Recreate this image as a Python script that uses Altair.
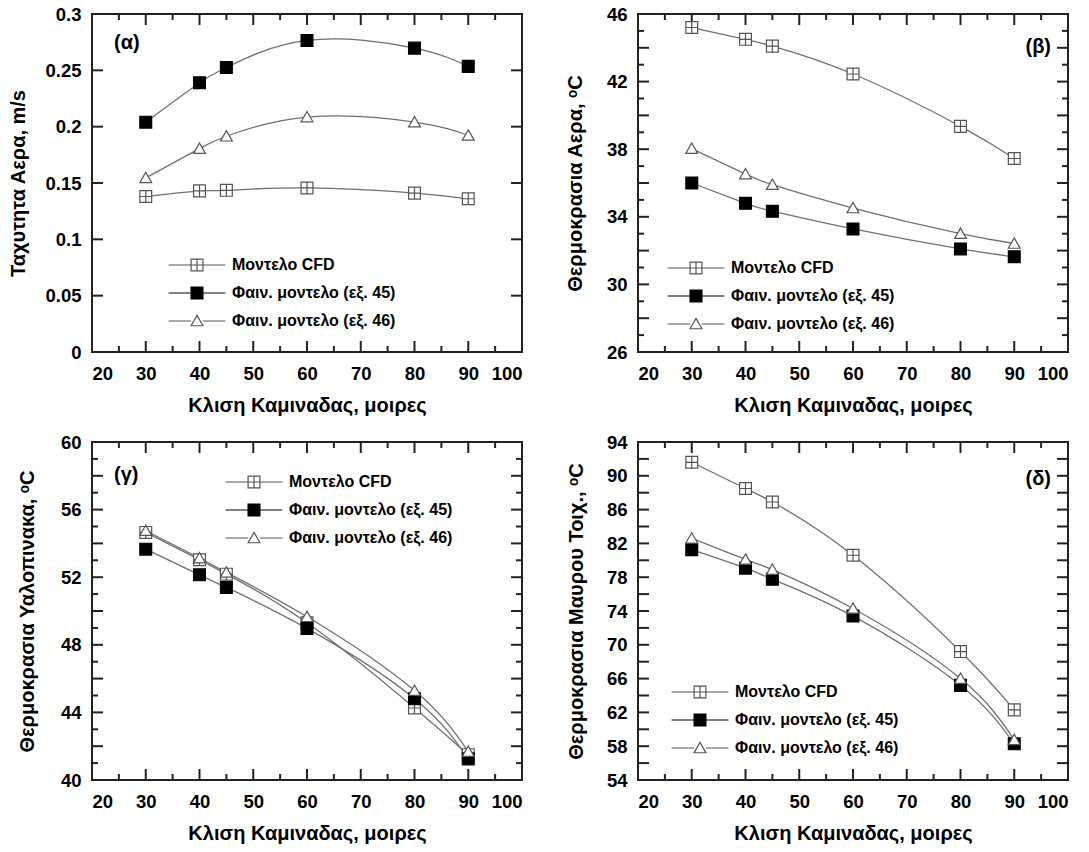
import altair as alt
import pandas as pd

angles = [30, 40, 45, 60, 80, 90]
series_names = ["Μοντελο CFD", "Φαιν. μοντελο (εξ. 45)", "Φαιν. μοντελο (εξ. 46)"]

# (α) air velocity, m/s
a_cfd = [0.138, 0.143, 0.1435, 0.1456, 0.141, 0.136]
a_eq45 = [0.204, 0.239, 0.2525, 0.2765, 0.2697, 0.2535]
a_eq46 = [0.1545, 0.1805, 0.1915, 0.2085, 0.204, 0.1922]
# (β) air temperature, oC
b_cfd = [45.2, 44.5, 44.1, 42.45, 39.35, 37.45]
b_eq45 = [36.0, 34.8, 34.33, 33.28, 32.1, 31.63]
b_eq46 = [38.03, 36.53, 35.9, 34.52, 33.0, 32.42]
# (γ) glass temperature, oC
g_cfd = [54.65, 53.03, 52.18, 49.3, 44.26, 41.5]
g_eq45 = [53.66, 52.14, 51.39, 48.97, 44.81, 41.25]
g_eq46 = [54.75, 53.13, 52.28, 49.66, 45.29, 41.68]
# (δ) black wall temperature, oC
d_cfd = [91.6, 88.5, 86.9, 80.6, 69.2, 62.3]
d_eq45 = [81.25, 79.07, 77.76, 73.4, 65.2, 58.28]
d_eq46 = [82.6, 80.1, 78.9, 74.3, 66.0, 58.75]

x_title = "Κλιση Καμιναδας, μοιρες"
x_labels = [20, 30, 40, 50, 60, 70, 80, 90, 100]
x_ticks = [20, 25, 30, 35, 40, 45, 50, 55, 60, 65, 70, 75, 80, 85, 90, 95, 100]

W, H = 430, 338
FONT = "Liberation Sans"
LINE_GRAY = "#707070"
MARK_GRAY = "#555555"
FRAME = "#222222"
MAJOR_LEN, MINOR_LEN = 11, 6

pt_shapes = ["M-1,-1H1V1H-1Z M0,-1V1 M-1,0H1", "square", "M0,-0.95L1,0.8H-1Z"]
leg_shapes = [
    "M-4.8,0H-1 M1,0H4.8 M-1,-1H1V1H-1Z M0,-1V1 M-1,0H1",
    "M-4.8,0H-1 M1,0H4.8 M-1,-1H1V1H-1Z",
    "M-4.8,0H-1 M1,0H4.8 M0,-0.95L1,0.8H-1Z",
]
fills = ["white", "black", "white"]
strokes = [MARK_GRAY, "black", MARK_GRAY]


def tick_frame(vals, major_step):
    """Inward frame ticks on both sides: one row per tick value and side."""
    rows = []
    for side in ("a", "b"):
        for v in vals:
            q = round(v / major_step, 6)
            major = abs(q - round(q)) < 1e-6
            rows.append({"v": v, "side": side, "len": MAJOR_LEN if major else MINOR_LEN})
    return pd.DataFrame(rows)


def panel(values, ydom, ylabels, yticks, ymajor, yfmt, ytitle, ytpad, letter, right,
          lx, ly, ldy):
    rows = []
    for name, vals in zip(series_names, values):
        for a, v in zip(angles, vals):
            rows.append({"angle": a, "value": v, "series": name})
    df = pd.DataFrame(rows)
    base = alt.Chart(df)
    xs = alt.Scale(domain=[20, 100], nice=False, zero=False)
    ys = alt.Scale(domain=ydom, nice=False, zero=False)

    lines = base.mark_line(interpolate="natural", color=LINE_GRAY, strokeWidth=1.3).encode(
        x=alt.X("angle:Q", scale=xs, axis=alt.Axis(
            values=x_labels, title=x_title, ticks=False, tickSize=0, domain=False,
            labelPadding=12, titlePadding=13, format="d")),
        y=alt.Y("value:Q", scale=ys, axis=alt.Axis(
            values=ylabels, title=ytitle, ticks=False, tickSize=0, domain=False,
            labelPadding=11, titlePadding=ytpad, format=yfmt)),
        detail="series:N",
    )

    # inward ticks along bottom ("a") and top ("b") edges
    xt = alt.Chart(tick_frame(x_ticks, 10)).transform_calculate(
        p0=f"datum.side === 'a' ? {H} : 0",
        p1=f"datum.side === 'a' ? {H} - datum.len : datum.len",
    ).mark_rule(color=FRAME, strokeWidth=2).encode(
        x=alt.X("v:Q", scale=xs, axis=None),
        y=alt.Y("p0:Q", scale=None, axis=None),
        y2="p1:Q",
    )
    # inward ticks along left ("a") and right ("b") edges
    yt = alt.Chart(tick_frame(yticks, ymajor)).transform_calculate(
        p0=f"datum.side === 'a' ? 0 : {W}",
        p1=f"datum.side === 'a' ? datum.len : {W} - datum.len",
    ).mark_rule(color=FRAME, strokeWidth=2).encode(
        y=alt.Y("v:Q", scale=ys, axis=None),
        x=alt.X("p0:Q", scale=None, axis=None),
        x2="p1:Q",
    )

    pts = base.mark_point(filled=True, size=140, strokeWidth=1.2, opacity=1).encode(
        x=alt.X("angle:Q", scale=xs, axis=None),
        y=alt.Y("value:Q", scale=ys, axis=None),
        shape=alt.Shape("series:N", scale=alt.Scale(domain=series_names, range=pt_shapes), legend=None),
        fill=alt.Fill("series:N", scale=alt.Scale(domain=series_names, range=fills), legend=None),
        stroke=alt.Stroke("series:N", scale=alt.Scale(domain=series_names, range=strokes), legend=None),
    )

    leg = alt.Legend(orient="none", legendX=lx, legendY=ly, title=None, labelFont=FONT,
                     labelFontSize=16, labelFontWeight="bold", labelColor="black",
                     labelOffset=27, symbolOffset=0, rowPadding=10, padding=0,
                     symbolSize=140, symbolStrokeWidth=1.2, labelLimit=400)

    legend_layer = base.transform_filter("false").mark_point(
        filled=True, size=140, strokeWidth=1.2, opacity=1).encode(
        x=alt.X("angle:Q", scale=xs, axis=None),
        y=alt.Y("value:Q", scale=ys, axis=None),
        shape=alt.Shape("series:N", scale=alt.Scale(domain=series_names, range=leg_shapes), legend=leg),
        fill=alt.Fill("series:N", scale=alt.Scale(domain=series_names, range=fills), legend=leg),
        stroke=alt.Stroke("series:N", scale=alt.Scale(domain=series_names, range=strokes), legend=leg),
    )

    title = alt.TitleParams(
        text=letter, anchor="end" if right else "start", frame="group", orient="top",
        offset=0, dx=-17 if right else 22, dy=ldy, fontSize=20, font=FONT,
        fontWeight="bold", color="black", baseline="middle")

    return alt.layer(lines, xt, yt, pts, legend_layer).resolve_scale(
        shape="independent", fill="independent", stroke="independent"
    ).resolve_axis(x="independent", y="independent").properties(
        width=W, height=H, title=title)


pa = panel([a_cfd, a_eq45, a_eq46], [0, 0.3], [0, 0.05, 0.1, 0.15, 0.2, 0.25, 0.3],
           [0, 0.05, 0.1, 0.15, 0.2, 0.25, 0.3], 0.05, "~g", "Ταχυτητα Αερα, m/s", 16,
           "(α)", False, 97, 243, 58)
pb = panel([b_cfd, b_eq45, b_eq46], [26, 46], [26, 30, 34, 38, 42, 46],
           list(range(26, 47)), 2, "d", "Θερμοκρασια Αερα, \u1d52C", 21,
           "(β)", True, 50, 246, 62)
pg = panel([g_cfd, g_eq45, g_eq46], [40, 60], [40, 44, 48, 52, 56, 60],
           list(range(40, 61)), 2, "d", "Θερμοκρασια Υαλοπινακα, \u1d52C", 23,
           "(γ)", False, 154, 32, 62)
pdl = panel([d_cfd, d_eq45, d_eq46], [54, 94], [54, 58, 62, 66, 70, 74, 78, 82, 86, 90, 94],
            list(range(54, 95, 2)), 2, "d", "Θερμοκρασια Μαυρου Τοιχ., \u1d52C", 20,
            "(δ)", True, 54, 242, 66)

chart = alt.concat(pa, pb, pg, pdl, columns=2, spacing={"row": 90, "column": 116}).resolve_scale(
    shape="independent", fill="independent", stroke="independent"
).resolve_legend(
    shape="independent", fill="independent", stroke="independent"
).properties(
    bounds="flush", background="white",
    padding={"left": 7, "top": 4, "right": 10, "bottom": 5}
).configure_view(
    stroke=FRAME, strokeWidth=2
).configure_axis(
    labelFont=FONT, labelFontSize=18.5, labelFontWeight="bold", labelColor="black",
    titleFont=FONT, titleFontSize=20, titleFontWeight="bold", titleColor="black",
    grid=False
)

chart.save("out.html", embed_options={"renderer": "svg", "actions": False})
